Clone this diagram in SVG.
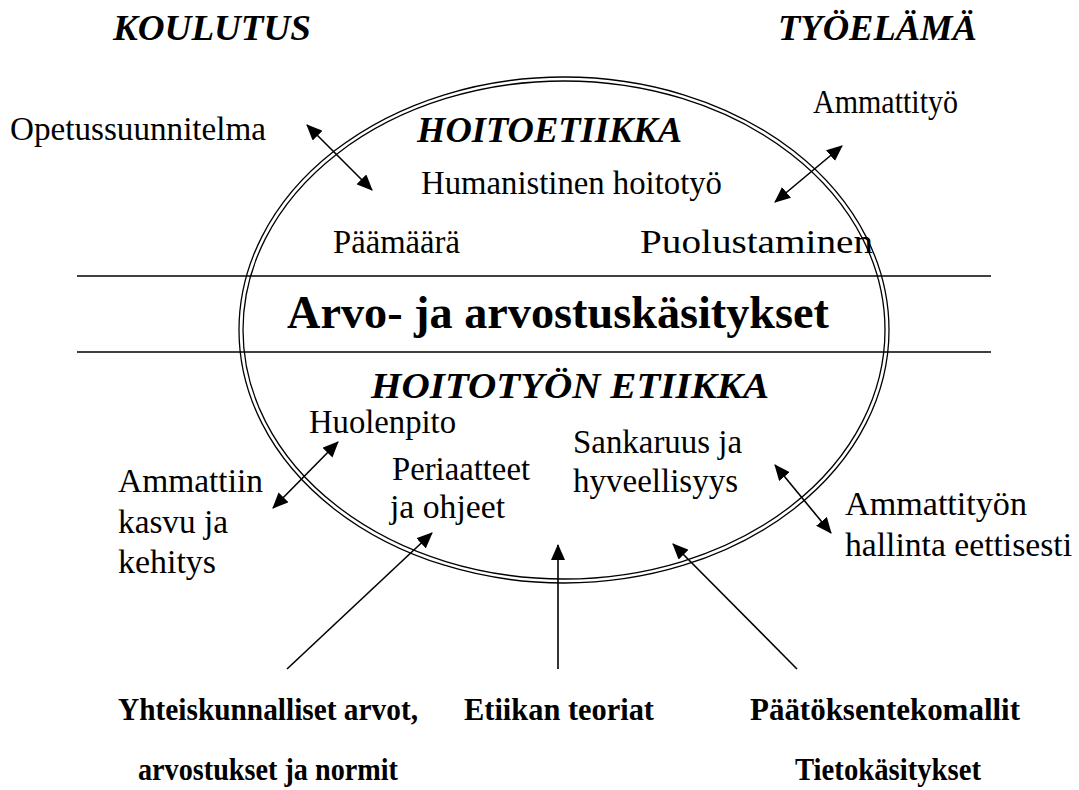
<svg xmlns="http://www.w3.org/2000/svg" width="1079" height="790" viewBox="0 0 1079 790">
<style>
text{font-family:'Liberation Serif','Tinos','Nimbus Roman','Nimbus Roman No9 L','FreeSerif','Noto Serif','DejaVu Serif','Times New Roman',Times,serif;fill:#000}
.r{font-size:33px}
.h{font-size:36px;font-weight:bold;font-style:italic}
.b{font-size:31px;font-weight:bold}
.m{font-size:46px;font-weight:bold}
.ln{stroke:#000;stroke-width:1.6;fill:none}
.el{stroke:#000;stroke-width:1.3;fill:none}
.a{stroke:#000;stroke-width:1.6;fill:none;marker-end:url(#ah)}
.d{stroke:#000;stroke-width:1.6;fill:none;marker-start:url(#ah);marker-end:url(#ah)}
</style>
<defs>
<marker id="ah" markerUnits="userSpaceOnUse" markerWidth="16" markerHeight="14" refX="15" refY="7" orient="auto-start-reverse">
<path d="M0,0 L16,7 L0,14 z" fill="#000"/>
</marker>
</defs>
<rect width="1079" height="790" fill="#fff"/>

<g id="ellipse">
<ellipse class="el" cx="564" cy="330" rx="325" ry="253"/>
<ellipse class="el" cx="564" cy="330" rx="321" ry="249"/>
</g>
<g id="band">
<line class="ln" x1="77" y1="276" x2="991" y2="276"/>
<line class="ln" x1="77" y1="352" x2="991" y2="352"/>
<text class="m" x="287" y="328" textLength="542" lengthAdjust="spacingAndGlyphs">Arvo- ja arvostuskäsitykset</text>
</g>

<g id="connectors">
<line class="d" x1="307" y1="125" x2="372" y2="190"/>
<line class="d" x1="775" y1="202" x2="842" y2="146"/>
<line class="d" x1="338" y1="442" x2="273" y2="508"/>
<line class="a" x1="287" y1="669" x2="432" y2="533"/>
<line class="a" x1="558" y1="669" x2="558" y2="545"/>
<line class="a" x1="797" y1="669" x2="673" y2="544"/>
<line class="d" x1="775" y1="465" x2="831" y2="533"/>
</g>

<g id="koulutus"><text class="h" x="113" y="40" textLength="198" lengthAdjust="spacingAndGlyphs">KOULUTUS</text></g>
<g id="tyoelama"><text class="h" x="778" y="40" textLength="199" lengthAdjust="spacingAndGlyphs">TYÖELÄMÄ</text></g>
<g id="opetussuunnitelma"><text class="r" x="10" y="140" textLength="256" lengthAdjust="spacingAndGlyphs">Opetussuunnitelma</text></g>
<g id="ammattityo"><text class="r" x="813" y="113" textLength="145" lengthAdjust="spacingAndGlyphs">Ammattityö</text></g>
<g id="hoitoetiikka"><text class="h" x="417" y="142" textLength="265" lengthAdjust="spacingAndGlyphs">HOITOETIIKKA</text></g>
<g id="humanistinen"><text class="r" x="421" y="194" textLength="301" lengthAdjust="spacingAndGlyphs">Humanistinen hoitotyö</text></g>
<g id="paamaara"><text class="r" x="333" y="253" textLength="127" lengthAdjust="spacingAndGlyphs">Päämäärä</text></g>
<g id="puolustaminen"><text class="r" x="640" y="253" textLength="233" lengthAdjust="spacingAndGlyphs">Puolustaminen</text></g>
<g id="hoitotyon-etiikka"><text class="h" x="371" y="398" textLength="398" lengthAdjust="spacingAndGlyphs">HOITOTYÖN ETIIKKA</text></g>
<g id="huolenpito"><text class="r" x="309" y="433" textLength="147" lengthAdjust="spacingAndGlyphs">Huolenpito</text></g>
<g id="periaatteet"><text class="r" x="392" y="480" textLength="138" lengthAdjust="spacingAndGlyphs">Periaatteet</text><text class="r" x="390" y="518" textLength="115" lengthAdjust="spacingAndGlyphs">ja ohjeet</text></g>
<g id="sankaruus"><text class="r" x="573" y="453" textLength="169" lengthAdjust="spacingAndGlyphs">Sankaruus ja</text><text class="r" x="573" y="492" textLength="165" lengthAdjust="spacingAndGlyphs">hyveellisyys</text></g>
<g id="ammattiin"><text class="r" x="118" y="492" textLength="145" lengthAdjust="spacingAndGlyphs">Ammattiin</text><text class="r" x="118" y="533" textLength="110" lengthAdjust="spacingAndGlyphs">kasvu ja</text><text class="r" x="118" y="573" textLength="98" lengthAdjust="spacingAndGlyphs">kehitys</text></g>
<g id="ammattityon-hallinta"><text class="r" x="845" y="515" textLength="182" lengthAdjust="spacingAndGlyphs">Ammattityön</text><text class="r" x="845" y="556" textLength="227" lengthAdjust="spacingAndGlyphs">hallinta eettisesti</text></g>
<g id="yhteiskunnalliset"><text class="b" x="118" y="720" textLength="300" lengthAdjust="spacingAndGlyphs">Yhteiskunnalliset arvot,</text><text class="b" x="138" y="780" textLength="260" lengthAdjust="spacingAndGlyphs">arvostukset ja normit</text></g>
<g id="etiikan-teoriat"><text class="b" x="464" y="720" textLength="190" lengthAdjust="spacingAndGlyphs">Etiikan teoriat</text></g>
<g id="paatoksentekomallit"><text class="b" x="750" y="720" textLength="270" lengthAdjust="spacingAndGlyphs">Päätöksentekomallit</text><text class="b" x="795" y="780" textLength="186" lengthAdjust="spacingAndGlyphs">Tietokäsitykset</text></g>
</svg>
